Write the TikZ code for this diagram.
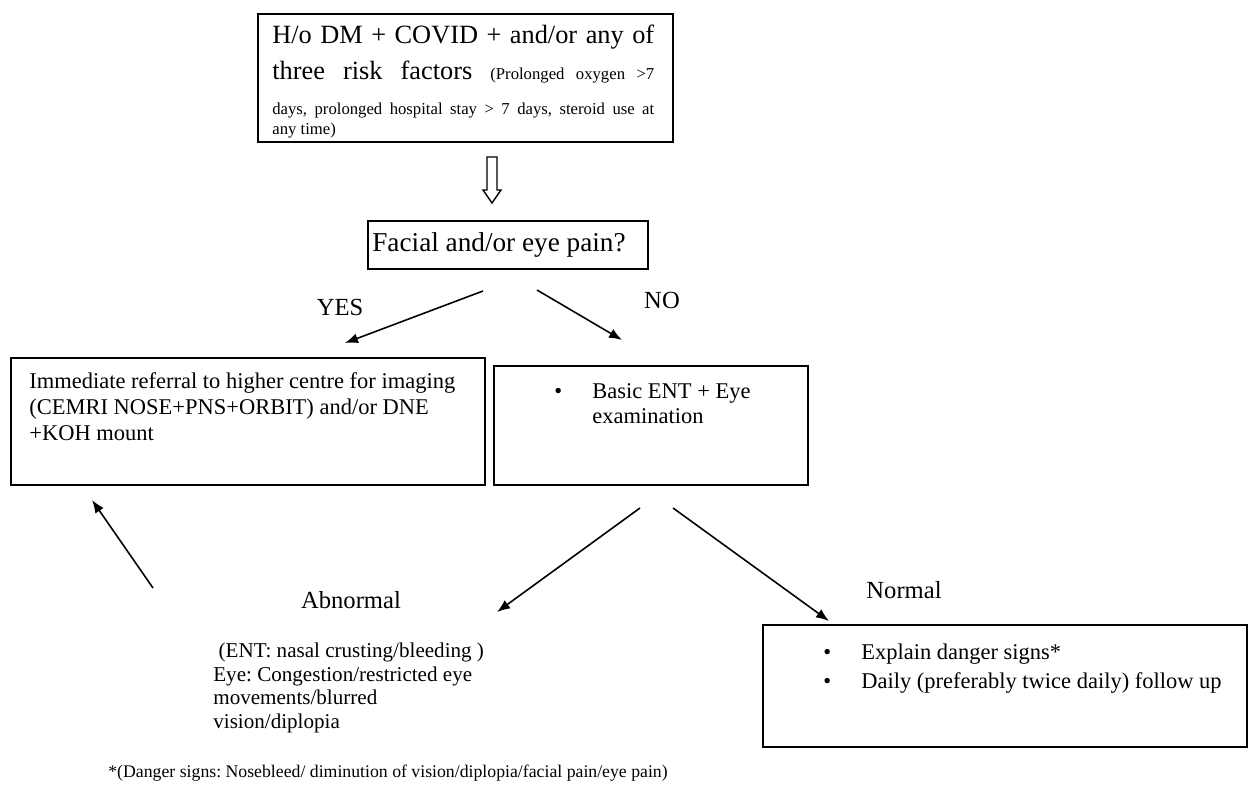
\documentclass[tikz,border=0pt]{standalone}
\usepackage{fontspec}
\setmainfont{Liberation Serif}
\usepackage{tikz}
\usetikzlibrary{shapes, arrows.meta, positioning, calc}
\tikzset{
  block/.style = {draw, line width=1pt, anchor=north west, inner sep=0pt},
  arrow/.style = {-{Latex[length=2.6mm, width=2mm]}, line width=0.9pt}
}
\frenchspacing

\begin{document}
\begin{tikzpicture}[x=0.02cm, y=-0.02cm]
  \tikzset{
    txt/.style={inner sep=0pt, align=left, anchor=north west},
    body/.style={font=\fontsize{12.8}{14.8}\selectfont},
    labelStyle/.style={inner sep=0pt, font=\fontsize{14}{16}\selectfont},
    hollow/.style={draw, line width=0.8pt, fill=white}
  }
  \def\riskw{7.64cm}

  \useasboundingbox (0,0) rectangle (1250,793);

  % boxes
  \node[block, minimum width=8.3cm,  minimum height=2.56cm] (risk)   at (257,13)  {};
  \node[block, minimum width=5.6cm,  minimum height=0.96cm] (pain)   at (367,220) {};
  \node[block, minimum width=9.48cm, minimum height=2.54cm] (refer)  at (10,357)  {};
  \node[block, minimum width=6.28cm, minimum height=2.38cm] (exam)   at (493,365) {};
  \node[block, minimum width=9.68cm, minimum height=2.44cm] (advice) at (762,624) {};

  % box texts
  \node[txt, font=\fontsize{9.5}{20}\selectfont, below right=0.24cm and 0.3cm of risk.north west] (risktxt) {%
    \makebox[\riskw][s]{\fontsize{15}{20}\selectfont H/o DM + COVID + and/or any of}\\
    \makebox[\riskw][s]{\fontsize{15}{20}\selectfont three risk factors \fontsize{9.5}{20}\selectfont (Prolonged oxygen >7}\\
    \makebox[\riskw][s]{days, prolonged hospital stay > 7 days, steroid use at}\\[-8.6pt]
    any time)};
  \node[txt, anchor=west, font=\fontsize{15.5}{18}\selectfont, right=0.1cm of pain.west] (paintxt) {Facial and/or eye pain?};
  \node[txt, body, below right=0.3cm and 0.38cm of refer.north west] (refertxt) {%
    Immediate referral to higher centre for imaging\\
    (CEMRI NOSE+PNS+ORBIT) and/or DNE\\
    +KOH mount};
  \node[txt, font=\fontsize{12.8}{14.2}\selectfont, below right=0.32cm and 1.22cm of exam.north west] (examtxt) {%
    \begin{tabular}{@{}p{0.76cm}@{}l@{}}
      \textbullet & Basic ENT + Eye\\
                  & examination
    \end{tabular}};
  \node[txt, font=\fontsize{12.8}{16.5}\selectfont, below right=0.3cm and 1.22cm of advice.north west] (advicetxt) {%
    \begin{tabular}{@{}p{0.76cm}@{}l@{}}
      \textbullet & Explain danger signs*\\
      \textbullet & Daily (preferably twice daily) follow up
    \end{tabular}};
  \node[txt, font=\fontsize{12}{13.3}\selectfont] (abntxt) at (213,643) {%
    \ (ENT: nasal crusting/bleeding )\\
    Eye: Congestion/restricted eye\\
    movements/blurred\\
    vision/diplopia};

  % labels
  \node[labelStyle] (yes)      at (340,307) {YES};
  \node[labelStyle] (no)       at (662,300) {NO};
  \node[labelStyle] (abnormal) at (351,600) {Abnormal};
  \node[labelStyle] (normal)   at (904,590) {Normal};
  \node[txt, anchor=west, font=\fontsize{10.1}{12}\selectfont] (note) at (108,773)
    {*(Danger signs: Nosebleed/ diminution of vision/diplopia/facial pain/eye pain)};

  % arrows
  \coordinate (down) at (492,157);
  \draw[hollow] (down) ++(-5,0) -- ++(10,0) -- ++(0,33) -- ++(4,0) -- ++(-9,13)
    -- ++(-9,-13) -- ++(4,0) -- cycle;

  \coordinate (yesA) at (483,291);  \coordinate (yesB) at (345,343);
  \coordinate (noA)  at (537,290);  \coordinate (noB)  at (622,340);
  \coordinate (abnA) at (640,508);  \coordinate (abnB) at (497,612);
  \coordinate (nrmA) at (673,508);  \coordinate (nrmB) at (829,621);
  \coordinate (backA) at (153,588); \coordinate (backB) at (92,500);

  \draw[arrow] (yesA) -- (yesB);
  \draw[arrow] (noA) -- (noB);
  \draw[arrow] (abnA) -- (abnB);
  \draw[arrow] (nrmA) -- (nrmB);
  \draw[arrow] (backA) -- (backB);
\end{tikzpicture}
\end{document}
